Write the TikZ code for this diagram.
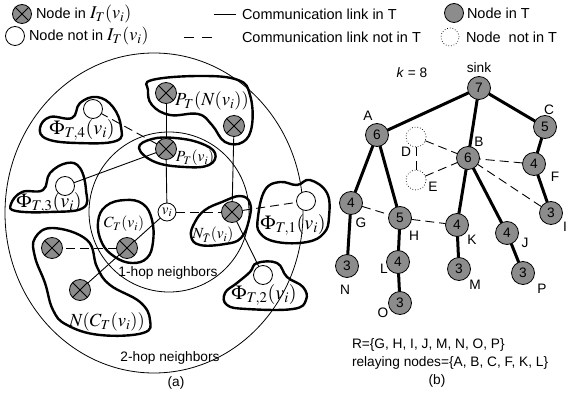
\documentclass[tikz,border=0pt]{standalone}
\usepackage{mathptmx}
\usepackage{fontspec}
\setmainfont{Liberation Sans}
\definecolor{ngray}{RGB}{140,140,140}
\begin{document}
\begin{tikzpicture}[x=1pt,y=-1pt,
 every node/.style={inner sep=0pt, outer sep=0pt},
 leg/.style={font=\fontsize{14.5}{16}\selectfont, anchor=west},
 lab/.style={font=\fontsize{13.7}{15}\selectfont},
 ml/.style={font=\fontsize{20}{22}\selectfont},
 mm/.style={font=\fontsize{18.5}{20}\selectfont},
 ms/.style={font=\fontsize{15.5}{17}\selectfont},
 xnode/.style={circle, draw, line width=0.8pt, fill=ngray, minimum size=21pt,
   path picture={\draw[line width=0.9pt] (path picture bounding box.north west) -- (path picture bounding box.south east) (path picture bounding box.north east) -- (path picture bounding box.south west);}},
 wnode/.style={circle, draw, line width=0.8pt, fill=white, minimum size=19pt},
 tnode/.style={circle, draw, line width=0.8pt, fill=ngray, minimum size=23pt, font=\fontsize{13.7}{15}\selectfont},
 dnode/.style={circle, draw, dotted, line width=0.7pt, minimum size=20pt},
 blob/.style={line width=2.4pt},
 tl/.style={line width=3pt},
 sl/.style={line width=0.9pt},
 dl/.style={line width=0.9pt, dash pattern=on 9pt off 5pt},
]
\useasboundingbox (0,0) rectangle (567,398);

% ---------- legend ----------
\node[xnode, minimum size=19pt] (lx) at (22,14) {};
\node[leg] (lxt) at (36,14) {Node in {\fontsize{18}{19}\selectfont$I_T(v_i)$}};
\node[wnode, minimum size=19pt] (lw) at (15,36) {};
\node[leg] (lwt) at (29,36) {Node not in {\fontsize{18}{19}\selectfont$I_T(v_i)$}};
\coordinate (l1a) at (214,14); \coordinate (l1b) at (236,14);
\draw[sl] (l1a) -- (l1b);
\node[leg] (l1t) at (242,14) {Communication link in T};
\coordinate (l2a) at (184,37); \coordinate (l2b) at (212,37);
\draw[line width=0.9pt, dash pattern=on 10pt off 8pt] (l2a) -- (l2b);
\node[leg] (l2t) at (242,37) {Communication link not in T};
\node[tnode, minimum size=19pt] (lg) at (454,13) {};
\node[leg] (lgt) at (467,13) {Node in T};
\node[dnode, minimum size=18pt] (ld) at (450,37) {};
\node[leg] (ldt) at (466,37) {Node\ \ not in T};

% ---------- part (a) ----------
\draw[line width=0.8pt] (154,213) ellipse [x radius=149pt, y radius=160pt];
\draw[line width=0.8pt] (169,212) circle [radius=80pt];

\draw[blob] plot[smooth cycle, tension=0.7] coordinates {(152,80) (200,76) (238,80) (250,95) (252,125) (243,142) (225,142) (212,125) (198,114) (170,115) (152,105) (148,90)};
\draw[blob] plot[smooth cycle, tension=0.7] coordinates {(139,148) (152,139) (175,138) (200,143) (215,153) (209,165) (185,167) (155,162)};
\draw[blob] plot[smooth cycle, tension=0.7] coordinates {(40,128) (50,117) (72,118) (80,103) (97,97) (113,107) (121,127) (116,141) (77,143) (47,139)};
\draw[blob] plot[smooth cycle, tension=0.7] coordinates {(11,204) (22,192) (43,190) (50,173) (67,163) (80,168) (86,190) (83,208) (50,212) (16,211)};
\draw[blob] plot[smooth cycle, tension=0.7] coordinates {(125,200) (143,204) (152,220) (153,242) (147,258) (132,263) (115,257) (102,243) (98,222) (106,206)};
\draw[blob] plot[smooth cycle, tension=0.7] coordinates {(35,238) (53,228) (87,240) (97,267) (110,285) (140,302) (150,320) (143,333) (100,335) (67,325) (53,310) (45,283) (35,257)};
\draw[blob] plot[smooth cycle, tension=0.7] coordinates {(195,222) (205,210) (222,202) (240,196) (250,203) (249,220) (241,238) (225,244) (200,245) (191,236)};
\draw[blob] plot[smooth cycle, tension=0.7] coordinates {(258,217) (265,190) (280,182) (297,185) (310,180) (327,193) (329,217) (324,233) (307,242) (277,242) (260,233)};
\draw[blob] plot[smooth cycle, tension=0.7] coordinates {(225,293) (237,283) (250,272) (257,263) (277,263) (287,277) (303,287) (306,300) (293,309) (247,309) (227,305)};

\node[circle, draw, line width=0.8pt, fill=white, minimum size=18pt, font=\fontsize{15}{16}\selectfont] (vi) at (167,212) {$v_i$};
\node[xnode] (pv) at (166,149) {};
\node[xnode] (pn1) at (166,93) {};
\node[xnode] (pn2) at (234,126) {};
\node[xnode] (nt) at (232,212) {};
\node[xnode] (ct) at (127,248) {};
\node[xnode] (cl) at (52,248) {};
\node[xnode] (cb) at (80,290) {};
\node[wnode] (w4) at (93,109) {};
\node[wnode] (w3) at (65,186) {};
\node[wnode] (w1) at (306,201) {};
\node[wnode] (w2) at (263,275) {};

\draw[sl] (vi) -- (pv);
\draw[sl] (pv) -- (pn1);
\draw[sl] (nt) -- (pn2);
\draw[sl] (vi) -- (ct);
\draw[sl] (ct) -- (cb);
\draw[sl] (pv) -- (w3);
\draw[sl] (nt) -- (w2);
\draw[dl] (vi) -- (nt);
\draw[dl] (ct) -- (cl);
\draw[dl] (pv) -- (w4);
\draw[dl] (nt) -- (w1);

\node[ml] (t4) at (82,130) {$\Phi_{T,4}(v_i)$};
\node[ml] (t3) at (49,203) {$\Phi_{T,3}(v_i)$};
\node[ml] (t1) at (293,225) {$\Phi_{T,1}(v_i)$};
\node[ml] (t2) at (264,295) {$\Phi_{T,2}(v_i)$};
\node[mm] (tpn) at (212,101) {$P_T(N(v_i))$};
\node[ms] (tpv) at (195,158) {$P_T(v_i)$};
\node[ms] (tct) at (124,224) {$C_T(v_i)$};
\node[ms] (tnt) at (213,235) {$N_{\bar{T}}(v_i)$};
\node[mm] (tnc) at (107,322) {$N(C_T(v_i))$};

\node[lab] (h1) at (168,273) {1-hop neighbors};
\node[lab] (h2) at (170,358) {2-hop neighbors};
\node[lab] (capa) at (176,383) {(a)};

% ---------- part (b) ----------
\node[lab] (kk) at (412,73) {\textit{k} = 8};
\node[tnode] (s7) at (479,88) {7};
\node[tnode] (A) at (377,135) {6};
\node[tnode] (B) at (468,158) {6};
\node[tnode] (C) at (545,127) {5};
\node[dnode] (D) at (416,137) {};
\node[dnode] (E) at (416,180) {};
\node[tnode] (F) at (534,164) {4};
\node[tnode] (I) at (551,213) {3};
\node[tnode] (G) at (351,203) {4};
\node[tnode] (H) at (400,218) {5};
\node[tnode] (K) at (457,225) {4};
\node[tnode] (J) at (507,233) {4};
\node[tnode] (N) at (347,266) {3};
\node[tnode] (L) at (398,262) {4};
\node[tnode] (O) at (400,303) {3};
\node[tnode] (M) at (459,269) {3};
\node[tnode] (P) at (523,273) {3};

\node[lab] at (479,68) {sink};
\node[lab] at (368,116) {A};
\node[lab] at (479,142) {B};
\node[lab] at (549,110) {C};
\node[lab] at (406,152) {D};
\node[lab] at (433,187) {E};
\node[lab] at (555,177) {F};
\node[lab] at (565,227) {I};
\node[lab] at (361,223) {G};
\node[lab] at (414,236) {H};
\node[lab] at (472,240) {K};
\node[lab] at (525,243) {J};
\node[lab] at (345,290) {N};
\node[lab] at (384,269) {L};
\node[lab] at (383,313) {O};
\node[lab] at (475,285) {M};
\node[lab] at (542,289) {P};

\draw[tl] (s7) -- (A);
\draw[tl] (s7) -- (B);
\draw[tl] (s7) -- (C);
\draw[tl] (C) -- (F);
\draw[tl] (F) -- (I);
\draw[tl] (B) -- (K);
\draw[tl] (B) -- (J);
\draw[tl] (A) -- (G);
\draw[tl] (A) -- (H);
\draw[tl] (G) -- (N);
\draw[tl] (H) -- (L);
\draw[tl] (L) -- (O);
\draw[tl] (K) -- (M);
\draw[tl] (J) -- (P);
\draw[dl] (D) -- (B);
\draw[dl] (E) -- (B);
\draw[dl] (D) -- (E);
\draw[dl] (G) -- (H);
\draw[dl] (H) -- (K);
\draw[dl] (F) -- (B);
\draw[dl] (I) -- (B);

\node[lab, anchor=west] (rset) at (352,345) {R=\{G, H, I, J, M, N, O, P\}};
\node[lab, anchor=west] (rel) at (352,363) {relaying nodes=\{A, B, C, F, K, L\}};
\node[lab] (capb) at (437,381) {(b)};
\end{tikzpicture}
\end{document}
